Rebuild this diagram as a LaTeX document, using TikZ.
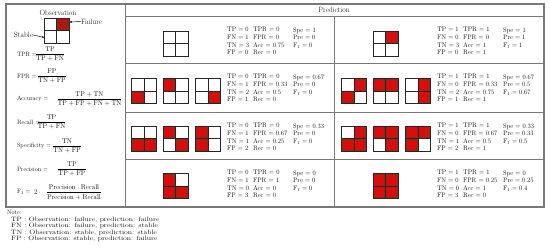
\documentclass[tikz,border=0pt]{standalone}
\usepackage{amsmath}
\usepackage{graphicx}
\usetikzlibrary{arrows.meta}
\definecolor{cmred}{RGB}{224,10,10}
\definecolor{cmbrown}{RGB}{128,52,22}
\definecolor{obsred}{RGB}{176,22,16}
\definecolor{rulecol}{RGB}{120,120,120}
\tikzset{
 rulel/.style={draw=rulecol, line width=1.2pt},
 outer/.style={draw=rulecol, line width=2.2pt},
 gridln/.style={draw=black!85, line width=1.0pt},
 stat/.style={inner sep=0pt, align=left, font=\fontsize{13.2}{15.34}\selectfont, anchor=north west},
 eq/.style={inner sep=0pt, font=\fontsize{13.8}{16}\selectfont},
 lbl/.style={inner sep=0pt, font=\fontsize{12.4}{15}\selectfont},
 biglbl/.style={inner sep=0pt, font=\fontsize{15.2}{18}\selectfont},
 note/.style={inner sep=0pt, align=left, font=\fontsize{12.4}{12.4}\selectfont, anchor=north west},
 ptr/.style={-{Stealth[length=5.2pt,width=4pt]}, line width=0.9pt},
}
\newcommand\cmcell[5][cmred]{%
  \fill[#1] ({#2-12.5+12.5*#4},{#3-12.5+12.5*#5}) rectangle ++(12.5,12.5);
  \draw[cmbrown,line width=2.2pt] ({#2-12.5+12.5*#4+0.55},{#3-12.5+12.5*#5+0.55}) rectangle ++(11.4,11.4);
}
\newcommand\cmframe[2]{%
  \draw[gridln] ({#1-12.5},{#2-12.5}) rectangle ({#1+12.5},{#2+12.5});
  \draw[gridln] (#1,{#2-12.5}) -- (#1,{#2+12.5});
  \draw[gridln] ({#1-12.5},#2) -- ({#1+12.5},#2);
}
\newcommand\cmgrid[3]{%
  \foreach \cc/\rr in {#3}{\cmcell{#1}{#2}{\cc}{\rr}}
  \cmframe{#1}{#2}
}
\newcommand\statblock[6]{%
  \node[stat] (#1a) at (#2,#3) {#4};
  \node[stat] (#1b) at ({#2+26},#3) {#5};
  \node[stat] (#1c) at ({#2+66},#3) {#6};
}
\begin{document}
\begin{tikzpicture}[x=2pt,y=-2pt]
\useasboundingbox (0,0) rectangle (550,250);
\fill[white] (0,0) rectangle (550,250);
% table rules
\draw[outer] (6,4) rectangle (544,207);
\draw[rulel] (125,4) -- (125,207);
\draw[rulel] (125,16) -- (544,16);
\draw[rulel] (334,16) -- (334,207);
\foreach \yy in {63,112,159} \draw[rulel] (125,\yy) -- (544,\yy);
\node[biglbl] (pred) at (334,10) {Prediction};

% observation legend
\node[biglbl] (obs) at (58,12.5) {Observation};
\cmcell[obsred]{56.5}{30.5}{1}{0}
\cmframe{56.5}{30.5}
\coordinate (obsTR) at (69.5,22);
\coordinate (obsBL) at (44.5,37.5);
\node[biglbl,anchor=west] (failure) at (81,21.5) {Failure};
\node[biglbl,anchor=east] (stable) at (33,35) {Stable};
\draw[ptr] (failure.west) -- (obsTR);
\draw[ptr] (stable.east) -- (obsBL);

% formulas
\node[lbl,anchor=west] (tprl) at (17,54) {TPR =};
\node[eq] (tprf) at (50,54) {$\dfrac{\text{TP}}{\text{TP}+\text{FN}}$};
\node[lbl,anchor=west] (fprl) at (17,76) {FPR =};
\node[eq] (fprf) at (52,76) {$\dfrac{\text{FP}}{\text{TN}+\text{FP}}$};
\node[lbl,anchor=west] (accl) at (17,99) {Accuracy =};
\node[eq] (accf) at (89.5,99) {$\dfrac{\text{TP}+\text{TN}}{\text{TP}+\text{FP}+\text{FN}+\text{TN}}$};
\node[lbl,anchor=west] (recl) at (17,122) {Recall =};
\node[eq] (recf) at (51.5,122) {$\dfrac{\text{TP}}{\text{TP}+\text{FN}}$};
\node[lbl,anchor=west] (spel) at (17,146) {Specificity =};
\node[eq] (spef) at (67,146) {$\dfrac{\text{TN}}{\text{TN}+\text{FP}}$};
\node[lbl,anchor=west] (prel) at (17,169) {Precision =};
\node[eq] (pref) at (72,169) {$\dfrac{\text{TP}}{\text{TP}+\text{FP}}$};
\node[lbl,anchor=west] (f1l) at (17,192) {F$_1$ =};
\node[eq] (f1two) at (37.5,192) {$2\,\cdot$};
\node[eq] (f1f) at (74,192) {$\dfrac{\text{Precision}\cdot\text{Recall}}{\text{Precision}+\text{Recall}}$};

% notes
\node[note] (note) at (7,210.3) {Note:};
\node[note] (notes) at (11,217.3) {\scalebox{1.25}[1]{\begin{tabular}{@{}l@{}}TP : Observation: failure, prediction: failure\\FN : Observation: failure, prediction: stable\\TN : Observation: stable, prediction: stable\\FP : Observation: stable, prediction: failure\end{tabular}}};

% row 1
\cmframe{175.5}{43.5}
\cmgrid{385.5}{43.5}{1/0}
\statblock{s1l}{227}{27.3}{TP = 0\\FN = 1\\TN = 3\\FP = 0}{TPR = 0\\FPR = 0\\Acc = 0.75\\Rec = 0}{Spe = 1\\Pre = 0\\F$_1$ = 0}
\statblock{s1r}{437}{27.3}{TP = 1\\FN = 0\\TN = 3\\FP = 0}{TPR = 1\\FPR = 0\\Acc = 1\\Rec = 1}{Spe = 1\\Pre = 1\\F$_1$ = 1}
% row 2
\cmgrid{144}{91}{0/1}
\cmgrid{175.5}{91}{0/0}
\cmgrid{208}{91}{1/1}
\cmgrid{354}{91}{1/0,0/1}
\cmgrid{385.5}{91}{0/0,1/0}
\cmgrid{418}{91}{1/0,1/1}
\statblock{s2l}{227}{74.3}{TP = 0\\FN = 1\\TN = 2\\FP = 1}{TPR = 0\\FPR = 0.33\\Acc = 0.5\\Rec = 0}{Spe = 0.67\\Pre = 0\\F$_1$ = 0}
\statblock{s2r}{437}{74.3}{TP = 1\\FN = 0\\TN = 2\\FP = 1}{TPR = 1\\FPR = 0.33\\Acc = 0.75\\Rec = 1}{Spe = 0.67\\Pre = 0.5\\F$_1$ = 0.67}
% row 3
\cmgrid{144}{138.5}{0/1,1/1}
\cmgrid{175.5}{138.5}{0/0,1/1}
\cmgrid{208}{138.5}{0/0,0/1}
\cmgrid{354}{138.5}{1/0,0/1,1/1}
\cmgrid{385.5}{138.5}{0/0,1/0,1/1}
\cmgrid{418}{138.5}{0/0,1/0,0/1}
\statblock{s3l}{227}{123.3}{TP = 0\\FN = 1\\TN = 1\\FP = 2}{TPR = 0\\FPR = 0.67\\Acc = 0.25\\Rec = 0}{Spe = 0.33\\Pre = 0\\F$_1$ = 0}
\statblock{s3r}{437}{123.3}{TP = 1\\FN = 0\\TN = 1\\FP = 2}{TPR = 1\\FPR = 0.67\\Acc = 0.5\\Rec = 1}{Spe = 0.33\\Pre = 0.33\\F$_1$ = 0.5}
% row 4
\cmgrid{175.5}{186}{0/0,0/1,1/1}
\cmgrid{385.5}{186}{0/0,1/0,0/1,1/1}
\statblock{s4l}{227}{170.3}{TP = 0\\FN = 1\\TN = 0\\FP = 3}{TPR = 0\\FPR = 1\\Acc = 0\\Rec = 0}{Spe = 0\\Pre = 0\\F$_1$ = 0}
\statblock{s4r}{437}{170.3}{TP = 1\\FN = 0\\TN = 0\\FP = 3}{TPR = 1\\FPR = 0.25\\Acc = 1\\Rec = 0}{Spe = 0\\Pre = 0.25\\F$_1$ = 0.4}
\end{tikzpicture}
\end{document}
